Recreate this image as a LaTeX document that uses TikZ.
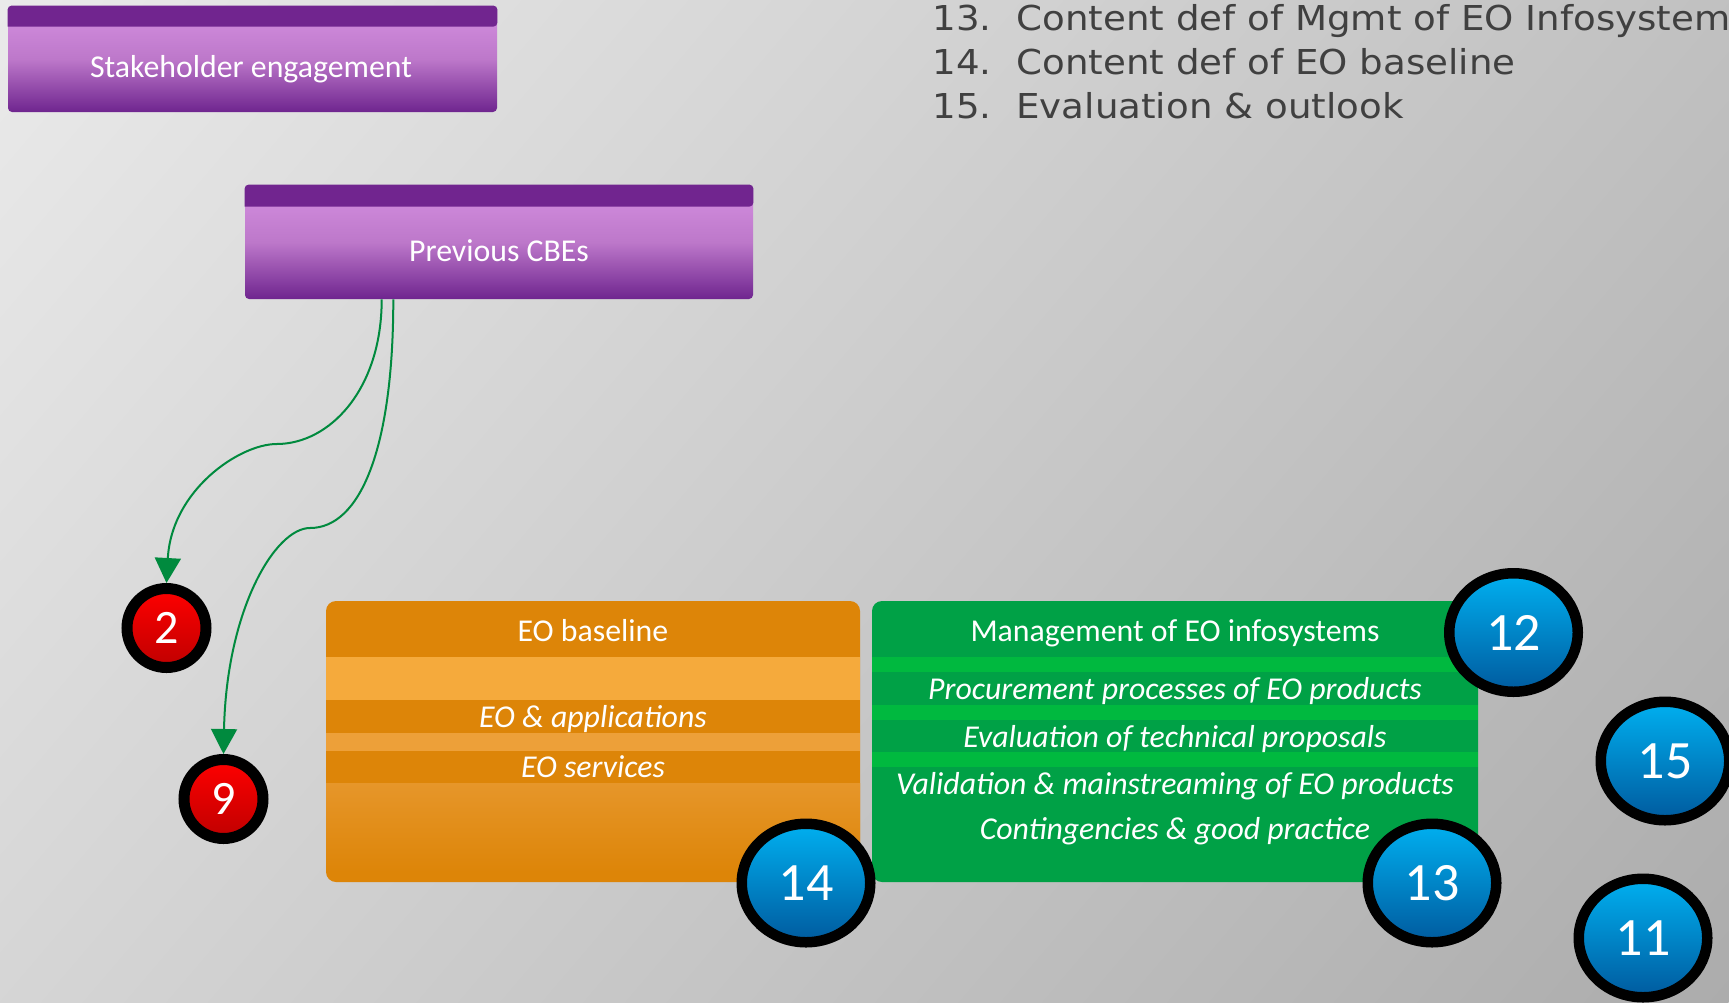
\documentclass[tikz,border=0pt]{standalone}
\usepackage{fontspec}
\setmainfont{Carlito}
\newfontfamily\listfont[FakeStretch=1.084]{DejaVu Sans}
\usetikzlibrary{arrows.meta,shapes.geometric,calc}

\definecolor{bglight}{HTML}{EAEAEA}
\definecolor{bgdark}{HTML}{ACACAC}
\definecolor{purpledark}{HTML}{71258F}
\definecolor{purpletop}{HTML}{D590E1}
\definecolor{purplemid}{HTML}{BD78CA}
\definecolor{purplebottom}{HTML}{6F258F}
\definecolor{orangedark}{HTML}{DD8508}
\definecolor{orangelight}{HTML}{F5AA3C}
\definecolor{orangegap}{HTML}{EDA039}
\definecolor{orangesoft}{HTML}{E6962A}
\definecolor{greendark}{HTML}{00A146}
\definecolor{greenlight}{HTML}{00B93F}
\definecolor{bluetop}{HTML}{00B0F0}
\definecolor{bluebottom}{HTML}{005A9E}
\definecolor{redtop}{HTML}{FF0000}
\definecolor{redbottom}{HTML}{BF0000}
\definecolor{flowgreen}{HTML}{008A3E}
\definecolor{listgray}{HTML}{404040}

\begin{document}
\begin{tikzpicture}[x=0.5pt,y=-0.5pt,
  purplebox/.style={rectangle,rounded corners=2pt,inner sep=0pt,
    top color=purpletop,bottom color=purplebottom,middle color=purplemid},
  colbox/.style={rectangle,rounded corners=5pt,inner sep=0pt,
    minimum height=140.5pt},
  boxtext/.style={anchor=base,text=white,inner sep=0pt,
    font=\fontsize{15.9pt}{18pt}\selectfont},
  bandtext/.style={boxtext,font=\fontsize{15.9pt}{18pt}\selectfont\itshape},
  redbadge/.style={circle,draw=black,line width=5.5pt,minimum size=39.5pt,
    inner sep=0pt,top color=redtop,bottom color=redbottom,text=white,
    font=\fontsize{24pt}{26pt}\selectfont},
  bluebadge/.style={ellipse,draw=black,line width=5.25pt,minimum width=64.25pt,
    minimum height=59.25pt,inner sep=0pt,top color=bluetop,bottom color=bluebottom,
    text=white,font=\fontsize{27pt}{29pt}\selectfont},
  listtext/.style={anchor=base west,inner sep=0pt,text=listgray,
    font=\listfont\fontsize{17.15pt}{20pt}\selectfont},
  flow/.style={draw=flowgreen,line width=1pt,-{Triangle[width=13pt,length=12.5pt]}}]

\useasboundingbox (0,0) rectangle (1729,1002);

% Background
\begin{scope}
  \clip (0,0) rectangle (1729,1002);
  \begin{scope}[transform canvas={rotate around={-40.5:(864.5,501)}}]
    \shade[left color=bglight,right color=bgdark] (864.5,501) ++(-983,-983) rectangle ++(1966,1966);
  \end{scope}
\end{scope}

% Purple boxes
\node[purplebox,minimum width=244.5pt,minimum height=53pt] (stake) at (252.5,59) {};
\fill[purpledark] ($(stake.north west)+(0,21)$) [rounded corners=2pt] |- (stake.north)
  -| ($(stake.north east)+(0,21)$) [sharp corners] -- cycle;
\node[boxtext] (staketext) at (251,77) {Stakeholder engagement};

\node[purplebox,minimum width=254pt,minimum height=57pt] (prev) at (499,242) {};
\fill[purpledark] ($(prev.north west)+(0,22)$) [rounded corners=2pt] |- (prev.north)
  -| ($(prev.north east)+(0,22)$) [sharp corners] -- cycle;
\node[boxtext] (prevtext) at (499,261) {Previous CBEs};

% EO baseline
\node[colbox,fill=orangedark,minimum width=267pt] (base) at (593,741.5) {};
\fill[orangelight] (326,657) rectangle (860,700);
\fill[orangegap] (326,733) rectangle (860,751);
\shade[top color=orangesoft,bottom color=orangedark] (326,783) rectangle (860,872);
\node[boxtext] (basetitle) at (593,641) {EO baseline};
\node[bandtext] (apps) at (593,727) {EO \& applications};
\node[bandtext] (services) at (593,777) {EO services};

% Management of EO infosystems
\node[colbox,fill=greendark,minimum width=303pt] (mgmt) at (1175,741.5) {};
\foreach \y in {657,705,752}
  \fill[greenlight] (872,\y) rectangle (1478,\y+15);
\node[boxtext] (mgmttitle) at (1175,641) {Management of EO infosystems};
\foreach \name/\y/\t in {proc/699/{Procurement processes of EO products},
    eval/747/{Evaluation of technical proposals},
    valid/794/{Validation \& mainstreaming of EO products},
    cont/839/{Contingencies \& good practice}}
  \node[bandtext] (\name) at (1175,\y) {\t};

% Numbered list
\foreach \n/\y/\t in {13/30/{Content def of Mgmt of EO Infosystem},
    14/74/{Content def of EO baseline},
    15/118/{Evaluation \& outlook}}{
  \node[listtext] (num\n) at (932,\y) {\n.};
  \node[listtext] (item\n) at (1016,\y) {\t};
}

% Badges
\foreach \n/\x/\y in {2/166.5/628,9/223.5/799}
  \node[redbadge] (badge\n) at (\x,\y) {\n};
\foreach \n/\x/\y in {12/1513.5/632.5,13/1432/883,14/806/883,15/1665/761,11/1643/938}
  \node[bluebadge] (badge\n) at (\x,\y) {\n};

% Links from previous CBEs
\coordinate (bendA) at (276.7,444);
\coordinate (bendB) at (310,528);
\draw[flow] ([xshift=-58.65pt]prev.south) .. controls +(0,90) and +(53,0) .. (bendA)
  .. controls +(-37,0) and +(5,-93) .. (badge2.north);
\draw[flow] ([xshift=-52.85pt]prev.south) .. controls +(0,150) and +(50,0) .. (bendB)
  .. controls +(-35,0) and +(3,-144) .. (badge9.north);

\end{tikzpicture}
\end{document}
